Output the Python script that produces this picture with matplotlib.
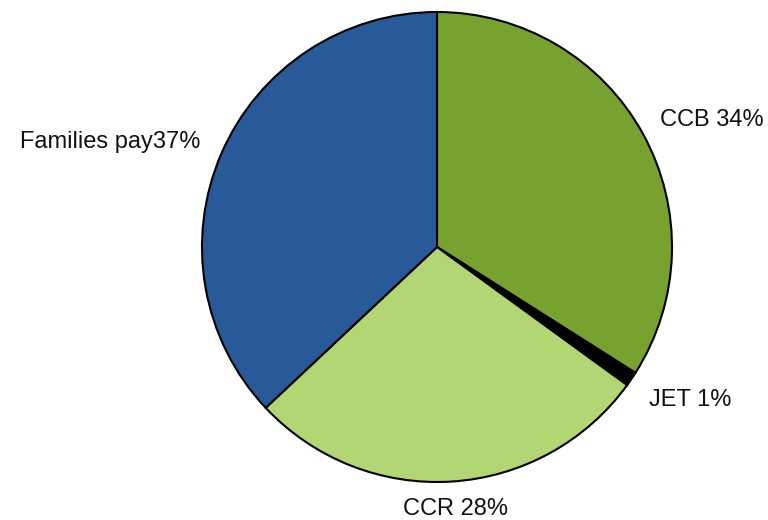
import matplotlib
matplotlib.use('Agg')
import matplotlib.pyplot as plt

# funding split, clockwise from 12 o'clock
names = ['CCB ', 'JET ', 'CCR ', 'Families pay']
shares = [34, 1, 28, 37]
colors = ['#78a22f', '#000000', '#b2d674', '#285a9a']

plt.rcParams['font.family'] = ['Liberation Sans', 'DejaVu Sans']

fig = plt.figure(figsize=(7.68, 5.2), dpi=100)
ax = fig.add_axes([0, 0, 1, 1])

labels = [f'{n}{v}%' for n, v in zip(names, shares)]
wedges, texts = ax.pie(shares, labels=labels, colors=colors,
                       startangle=90, counterclock=False,
                       center=(437, 273), radius=235,
                       labeldistance=1.14,
                       wedgeprops=dict(edgecolor='black', linewidth=1.5),
                       textprops=dict(fontsize=17, color='#111111'))

# alignment and small nudges for each label
align = ['left', 'left', 'center', 'right']
nudge = [(-12, -2), (-10, -2), (2, 5), (9, -1)]
for t, ha, (dx, dy) in zip(texts, align, nudge):
    x, y = t.get_position()
    t.set_ha(ha)
    t.set_position((x + dx, y + dy))

ax.set_xlim(0, 768)
ax.set_ylim(0, 520)
ax.set_aspect('equal')
ax.axis('off')

fig.savefig('out.png', dpi=100)
